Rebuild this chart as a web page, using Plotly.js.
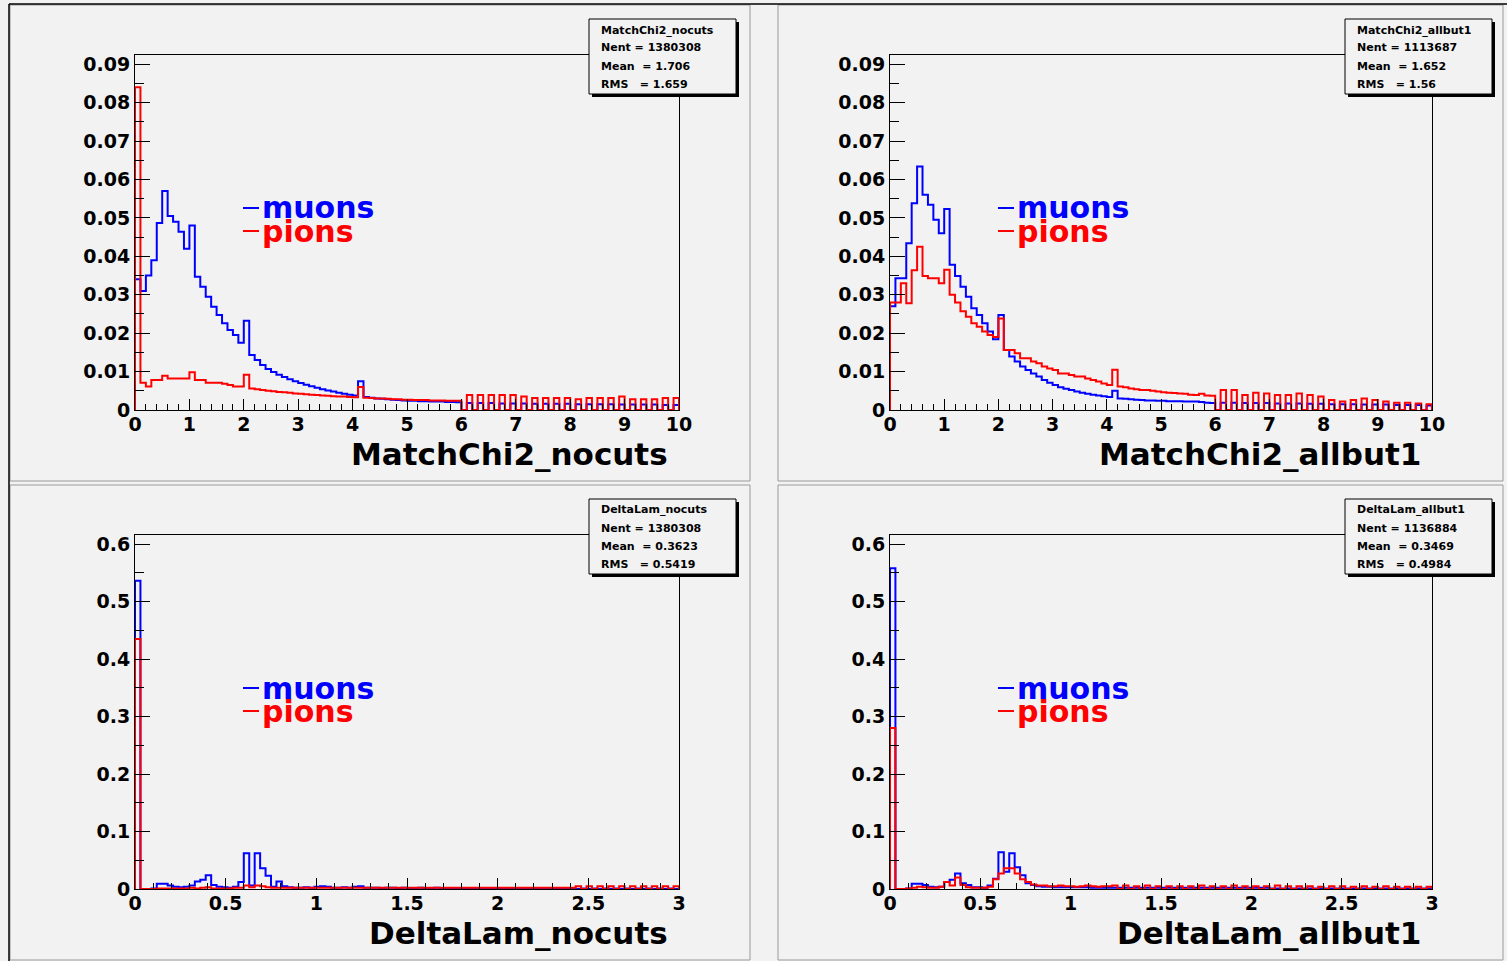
<!DOCTYPE html>
<html><head><meta charset="utf-8">
<script src="https://cdn.plot.ly/plotly-3.0.1.min.js"></script>
<style>html,body{margin:0;padding:0;background:#ffffff}#c{width:1507px;height:961px}</style>
</head><body><div id="c"></div><script>
// ---- data (bin contents, 100 bins each) ----
const chi2Range = [0, 10];
const dlRange = [0, 3];

const muChi2Nocuts = [0.034,0.031,0.035,0.039,0.0487,0.057,0.0505,0.049,0.0464,0.042,
 0.048,0.0347,0.0321,0.0295,0.0269,0.0247,0.0226,0.0208,0.0195,0.0175,
 0.0232,0.0143,0.013,0.0117,0.0107,0.0099,0.0092,0.0086,0.008,0.0075,
 0.007,0.0066,0.0062,0.0058,0.0054,0.0051,0.0048,0.0045,0.0042,0.004,
 0.0038,0.0075,0.0034,0.0032,0.003,0.0029,0.0028,0.0027,0.0026,0.0025,
 0.0024,0.0024,0.0023,0.0023,0.0022,0.0022,0.0022,0.0021,0.0021,0.002,
 0,0.0018,0,0.0018,0,0.0018,0,0.0017,0,0.0017,
 0,0.0017,0,0.0016,0,0.0016,0,0.0016,0,0.0016,
 0,0.0015,0,0.0015,0,0.0015,0,0.0015,0,0.0014,
 0,0.0014,0,0.0014,0,0.0014,0,0.0013,0,0.0013];
const piChi2Nocuts = [0.084,0.0071,0.0061,0.0078,0.0078,0.0089,0.0082,0.0082,0.0082,0.0082,
 0.0098,0.0078,0.0078,0.0071,0.0071,0.0071,0.0068,0.0065,0.0061,0.0061,
 0.0092,0.0056,0.0054,0.0052,0.005,0.0049,0.0047,0.0046,0.0045,0.0043,
 0.0042,0.0041,0.004,0.0039,0.0038,0.0037,0.0036,0.0035,0.0035,0.0034,
 0.0033,0.006,0.0032,0.0031,0.003,0.003,0.0029,0.0028,0.0028,0.0027,
 0.0027,0.0026,0.0026,0.0026,0.0025,0.0025,0.0025,0.0024,0.0024,0.0024,
 0,0.0039,0,0.0039,0,0.0039,0,0.0039,0,0.0039,
 0,0.0035,0,0.0031,0,0.0031,0,0.0031,0,0.0031,
 0,0.0028,0,0.0031,0,0.0031,0,0.0031,0,0.0035,
 0,0.0028,0,0.0028,0,0.0028,0,0.0031,0,0.0031];
const muChi2Allbut1 = [0.027,0.0343,0.0343,0.0434,0.0538,0.0634,0.056,0.0534,0.0495,0.046,
 0.0523,0.0378,0.0349,0.0321,0.0295,0.0265,0.0247,0.0226,0.0204,0.0184,
 0.0247,0.0156,0.0139,0.0126,0.0113,0.0104,0.0095,0.0087,0.0078,0.0071,
 0.0065,0.0059,0.0055,0.0052,0.0048,0.0045,0.0042,0.004,0.0038,0.0036,
 0.0034,0.005,0.003,0.0029,0.0028,0.0027,0.0026,0.0025,0.0025,0.0024,
 0.0024,0.0023,0.0023,0.0023,0.0022,0.0022,0.0022,0.0021,0.0019,0.0018,
 0,0.0019,0,0.0019,0,0.0018,0,0.0018,0,0.0018,
 0,0.0017,0,0.0017,0,0.0017,0,0.0016,0,0.0016,
 0,0.0015,0,0.0015,0,0.0015,0,0.0014,0,0.0014,
 0,0.0014,0,0.0013,0,0.0013,0,0.0013,0,0.0012];
const piChi2Allbut1 = [0.028,0.028,0.033,0.0278,0.0364,0.0425,0.0349,0.0343,0.0343,0.033,
 0.0365,0.03,0.028,0.0257,0.0243,0.0226,0.0217,0.0204,0.0195,0.019,
 0.0238,0.0156,0.0156,0.0148,0.0135,0.0135,0.0126,0.0122,0.0113,0.0108,
 0.0104,0.0095,0.0095,0.0091,0.0087,0.0087,0.0082,0.0078,0.0074,0.0069,
 0.0065,0.0105,0.0061,0.0059,0.0056,0.0054,0.0052,0.0052,0.005,0.0048,
 0.0046,0.0045,0.0044,0.0043,0.0042,0.004,0.0039,0.0042,0.0038,0.0037,
 0,0.0052,0,0.0052,0,0.0039,0,0.0045,0,0.0043,
 0,0.0039,0,0.0039,0,0.0043,0,0.0039,0,0.0035,
 0,0.0026,0,0.0022,0,0.0026,0,0.003,0,0.0026,
 0,0.0022,0,0.0019,0,0.0019,0,0.0017,0,0.0015];
const muDlNocuts = [0.536,0,0,0.001,0.009,0.009,0.006,0.004,0.003,0.004,
 0.006,0.013,0.016,0.024,0.007,0.004,0.003,0.002,0.004,0.012,
 0.062,0.006,0.062,0.036,0.023,0.004,0.013,0.005,0.003,0.002,
 0.002,0.003,0.002,0.004,0.005,0.004,0.002,0.002,0.003,0.002,
 0.004,0.005,0.002,0.002,0.002,0.001,0.002,0.002,0.001,0.002,
 0.001,0.001,0.002,0.001,0.001,0.002,0.001,0.001,0.001,0.001,
 0.001,0.001,0.001,0.001,0.001,0.001,0.001,0.001,0.001,0.001,
 0.001,0.001,0.001,0.001,0.001,0.001,0.001,0.001,0.001,0.001,
 0.001,0,0.001,0,0.001,0,0.001,0,0.001,0,
 0.001,0,0.001,0,0.001,0,0.001,0,0.001,0];
const piDlNocuts = [0.435,0,0,0,0.001,0.001,0.001,0.001,0.001,0.001,
 0.002,0.001,0.002,0.003,0.001,0.001,0.001,0.001,0.002,0.002,
 0.006,0.003,0.006,0.005,0.003,0.002,0.002,0.002,0.002,0.002,
 0.002,0.002,0.002,0.002,0.002,0.002,0.002,0.002,0.002,0.002,
 0.002,0.002,0.002,0.002,0.002,0.002,0.002,0.002,0.002,0.002,
 0.002,0.002,0.002,0.002,0.002,0.002,0.002,0.002,0.002,0.002,
 0.002,0.002,0.002,0.002,0.002,0.002,0.002,0.002,0.002,0.002,
 0.002,0.002,0.002,0.002,0.002,0.002,0.002,0.002,0.002,0.002,
 0.002,0.005,0,0.005,0,0.005,0,0.005,0,0.005,
 0,0.005,0,0.005,0,0.005,0,0.005,0,0.005];
const muDlAllbut1 = [0.558,0,0,0.001,0.009,0.009,0.007,0.004,0.003,0.004,
 0.012,0.016,0.027,0.01,0.007,0.003,0.003,0.002,0.006,0.018,
 0.064,0.03,0.062,0.038,0.024,0.01,0.007,0.005,0.004,0.004,
 0.003,0.003,0.003,0.003,0.003,0.003,0.003,0.002,0.002,0.002,
 0.002,0.002,0.002,0.002,0.002,0.002,0.002,0.002,0.002,0.002,
 0.002,0.002,0.002,0.002,0.002,0.002,0.002,0.002,0.002,0.002,
 0.002,0.002,0.002,0.002,0.002,0.002,0.002,0.002,0.002,0.002,
 0.001,0.001,0.001,0.001,0.001,0.001,0.001,0.001,0.001,0.001,
 0.001,0.001,0.001,0.001,0.001,0.001,0.001,0.001,0.001,0.001,
 0.001,0.001,0.001,0.001,0.001,0.001,0.001,0.001,0.001,0.001];
const piDlAllbut1 = [0.28,0,0,0.001,0.002,0.004,0.003,0.002,0.002,0.004,
 0.012,0.006,0.02,0.007,0.003,0.002,0.002,0.002,0.004,0.017,
 0.027,0.036,0.036,0.027,0.017,0.012,0.008,0.006,0.006,0.005,
 0.005,0.006,0.005,0.005,0.004,0.005,0.006,0.005,0.004,0.005,
 0.005,0.006,0,0.006,0,0.005,0,0.006,0,0.005,
 0,0.005,0,0.005,0,0.005,0,0.006,0,0.005,
 0,0.005,0,0.006,0,0.005,0,0.005,0,0.005,
 0,0.006,0,0.005,0,0.005,0,0.005,0,0.004,
 0,0.005,0,0.005,0,0.004,0,0.005,0,0.004,
 0,0.005,0,0.004,0,0.004,0,0.004,0,0.004];

const padTitles = ["MatchChi2_nocuts","MatchChi2_allbut1","DeltaLam_nocuts","DeltaLam_allbut1"];
const statTitles = ["MatchChi2_nocuts","MatchChi2_allbut1","DeltaLam_nocuts","DeltaLam_allbut1"];
const statNent = ["1380308","1113687","1380308","1136884"];
const statMean = ["1.706","1.652","0.3623","0.3469"];
const statRms = ["1.659","1.56","0.5419","0.4984"];
const legendNames = ["muons","pions"];

// ---- helpers ----
const W = 1507, H = 961;
const px = x => x / W;
const py = y => 1 - y / H;
function steps(vals, range) {
  const n = vals.length, w = (range[1] - range[0]) / n;
  const x = [range[0]], y = [0];
  for (let i = 0; i < n; i++) { x.push(range[0] + i * w); y.push(vals[i]); }
  x.push(range[1]); y.push(vals[n - 1]);
  x.push(range[1]); y.push(0);
  return {x, y};
}
const BLUE = '#0000ff', RED = '#ff0000', BG = '#f2f2f2';
const FONT = 'DejaVu Sans';

// pad geometry in pixels: plot frame [x0,x1] , [ytop,ybottom]
const pads = [
  {fx:[135,679], fy:[55,410], range:chi2Range, yr:[0,0.0924], data:[muChi2Nocuts,piChi2Nocuts], ydt:0.01, ymin:0.005, xdt:1, xmin:0.2, box:[589,19], leg:[243,210]},
  {fx:[890,1432], fy:[55,410], range:chi2Range, yr:[0,0.0924], data:[muChi2Allbut1,piChi2Allbut1], ydt:0.01, ymin:0.005, xdt:1, xmin:0.2, box:[1345,19], leg:[998,210]},
  {fx:[135,679], fy:[535,889], range:dlRange, yr:[0,0.6157], data:[muDlNocuts,piDlNocuts], ydt:0.1, ymin:0.05, xdt:0.5, xmin:0.1, box:[589,499], leg:[243,690]},
  {fx:[890,1432], fy:[535,889], range:dlRange, yr:[0,0.6157], data:[muDlAllbut1,piDlAllbut1], ydt:0.1, ymin:0.05, xdt:0.5, xmin:0.1, box:[1345,499], leg:[998,690]}
];

const traces = [];
const layout = {
  width: W, height: H, margin: {l:0,r:0,t:0,b:0},
  paper_bgcolor: BG, plot_bgcolor: BG, showlegend: false,
  shapes: [], annotations: []
};
const tickFont = {family: FONT, size: 19, color: '#000', weight: 'bold'};

pads.forEach((p, i) => {
  const k = i === 0 ? '' : String(i + 1);
  const xa = 'x' + k, ya = 'y' + k;
  const s0 = steps(p.data[0], p.range), s1 = steps(p.data[1], p.range);
  traces.push({type:'scatter', mode:'lines', x:s0.x, y:s0.y, xaxis:xa, yaxis:ya,
    line:{color:BLUE, width:2, shape:'hv'}, hoverinfo:'skip', cliponaxis:false});
  traces.push({type:'scatter', mode:'lines', x:s1.x, y:s1.y, xaxis:xa, yaxis:ya,
    line:{color:RED, width:2, shape:'hv'}, hoverinfo:'skip', cliponaxis:false});
  layout['xaxis' + k] = {
    domain:[px(p.fx[0]), px(p.fx[1])], anchor: ya, range: p.range,
    showgrid:false, zeroline:false, showline:true, linecolor:'#000', linewidth:1, mirror:true,
    ticks:'inside', ticklen:11, tickwidth:1, tickcolor:'#000', dtick:p.xdt, tick0:0,
    minor:{ticks:'inside', ticklen:6, dtick:p.xmin, tick0:0, tickcolor:'#000', showgrid:false},
    tickfont: tickFont, ticklabelstandoff: -3, fixedrange:true
  };
  layout['yaxis' + k] = {
    domain:[py(p.fy[1]), py(p.fy[0])], anchor: xa, range: p.yr,
    showgrid:false, zeroline:false, showline:true, linecolor:'#000', linewidth:1, mirror:true,
    ticks:'inside', ticklen:15, tickwidth:1, tickcolor:'#000', dtick:p.ydt, tick0:0,
    minor:{ticks:'inside', ticklen:9, dtick:p.ymin, tick0:0, tickcolor:'#000', showgrid:false},
    tickfont: tickFont, ticklabelstandoff: 0, fixedrange:true
  };
  // axis title (ROOT style: right aligned under axis)
  layout.annotations.push({xref:'paper', yref:'paper', x:px(p.fx[1] - 9), y:py(p.fy[1] + 44),
    xanchor:'right', yanchor:'middle', showarrow:false, text:padTitles[i],
    font:{family:FONT, size:31, color:'#000', weight:'bold'}});
  // legend
  const cols = [BLUE, RED];
  legendNames.forEach((nm, j) => {
    const ly = p.leg[1] + j * 23;
    layout.shapes.push({type:'line', xref:'paper', yref:'paper', x0:px(p.leg[0]), x1:px(p.leg[0] + 16),
      y0:py(ly - 2), y1:py(ly - 2), line:{color:cols[j], width:2}, layer:'above'});
    layout.annotations.push({xref:'paper', yref:'paper', x:px(p.leg[0] + 17), y:py(ly - 2),
      xanchor:'left', yanchor:'middle', showarrow:false, text:nm,
      font:{family:FONT, size:30, color:cols[j], weight:'bold'}});
  });
  // stats box with shadow
  const bx = p.box[0], by = p.box[1], bw = 147, bh = 75;
  layout.shapes.push({type:'rect', xref:'paper', yref:'paper', x0:px(bx + 3), x1:px(bx + bw + 3),
    y0:py(by + bh + 3), y1:py(by + 3), fillcolor:'#000', line:{width:0}, layer:'above'});
  layout.shapes.push({type:'rect', xref:'paper', yref:'paper', x0:px(bx), x1:px(bx + bw),
    y0:py(by + bh), y1:py(by), fillcolor:BG, line:{color:'#000', width:1}, layer:'above'});
  const lines = [statTitles[i], 'Nent = ' + statNent[i], 'Mean  = ' + statMean[i], 'RMS   = ' + statRms[i]];
  lines.forEach((t, j) => {
    layout.annotations.push({xref:'paper', yref:'paper', x:px(bx + 10), y:py(by + 11 + j * 18),
      xanchor:'left', yanchor:'middle', showarrow:false, text:t,
      font:{family:FONT, size:11, color:'#000', weight:'bold'}});
  });
});

// pad frames
const padRects = [[10,5,750,481],[778,5,1503,481],[10,485,750,960],[778,485,1503,960]];
padRects.forEach(r => {
  layout.shapes.push({type:'rect', xref:'paper', yref:'paper', x0:px(r[0]), x1:px(r[2]), y0:py(r[3]), y1:py(r[1]),
    line:{color:'#9a9a9a', width:1}, layer:'below'});
});
layout.shapes.push({type:'line', xref:'paper', yref:'paper', x0:px(9), x1:px(1507), y0:py(4), y1:py(4), line:{color:'#000', width:1.5}});
layout.shapes.push({type:'line', xref:'paper', yref:'paper', x0:px(9), x1:px(9), y0:py(4), y1:py(961), line:{color:'#000', width:1.5}});

Plotly.newPlot('c', traces, layout, {staticPlot:true, displayModeBar:false});
</script></body></html>
